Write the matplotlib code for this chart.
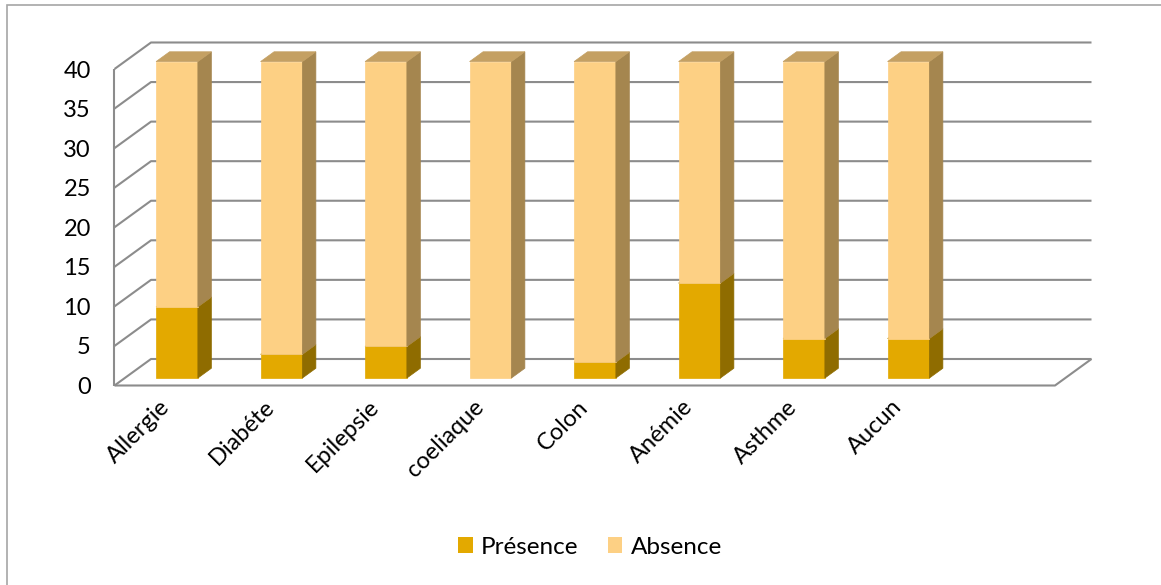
import matplotlib
matplotlib.use("Agg")
import matplotlib.pyplot as plt
from matplotlib.patches import Polygon, Rectangle, Patch

categories = ["Allergie", "Diabéte", "Epilepsie", "coeliaque", "Colon", "Anémie", "Asthme", "Aucun"]
presence = [9, 3, 4, 0, 2, 12, 5, 5]
absence = [31, 37, 36, 40, 38, 28, 35, 35]
n_slots = 9          # one empty category slot at the right end
y_ticks = [0, 5, 10, 15, 20, 25, 30, 35, 40]

W, H = 1161, 585
# depth of the box (front plane -> back wall), in data units
DX = 36.5 / 104.5
DY = 26.5 / 7.91
BAR_W = 0.40
D0, D1 = 0.28, 0.65   # bar depth range

GRID = "#8c8c8c"
FACE = {"pres": ("#e3a900", "#8f6c00", "#b08a10"),
        "abs": ("#fdd084", "#a5864f", "#c4a063")}

plt.rcParams["font.family"] = ["Lato", "DejaVu Sans"]

fig = plt.figure(figsize=(W / 100, H / 100), dpi=100)
ax = fig.add_axes([114.5 / W, 1 - 385.5 / H, (1055 - 114.5) / W, (385.5 - 69) / H])
ax.set_xlim(0, n_slots)
ax.set_ylim(0, 40)
for s in ax.spines.values():
    s.set_visible(False)


def proj(x, v, d):
    return (x + d * DX, v + d * DY)


def line(pts, **kw):
    xs, ys = zip(*pts)
    ax.plot(xs, ys, color=GRID, lw=1.5, clip_on=False, solid_capstyle="butt", **kw)


# back wall gridlines and left wall
for v in y_ticks:
    line([proj(0, v, 0), proj(0, v, 1), proj(n_slots, v, 1)], zorder=1)
line([proj(0, 0, 0), proj(0, 40, 0)], zorder=1)
# floor front and right edges
line([proj(0, 0, 0), proj(n_slots, 0, 0), proj(n_slots, 0, 1)], zorder=1)


def box(xc, lo, hi, colors, z):
    front, side, top = colors
    x0, x1 = xc - BAR_W / 2, xc + BAR_W / 2
    f = [proj(x0, lo, D0), proj(x1, lo, D0), proj(x1, hi, D0), proj(x0, hi, D0)]
    s = [proj(x1, lo, D0), proj(x1, lo, D1), proj(x1, hi, D1), proj(x1, hi, D0)]
    t = [proj(x0, hi, D0), proj(x1, hi, D0), proj(x1, hi, D1), proj(x0, hi, D1)]
    for pts, c in ((f, front), (s, side), (t, top)):
        ax.add_patch(Polygon(pts, closed=True, facecolor=c, edgecolor=c, lw=0.5,
                             clip_on=False, zorder=z))


for i, (p, a) in enumerate(zip(presence, absence)):
    xc = i + 0.5
    if p > 0:
        box(xc, 0, p, FACE["pres"], 3)
    if a > 0:
        box(xc, p, p + a, FACE["abs"], 4)

ax.set_yticks(y_ticks)
ax.set_yticklabels([str(v) for v in y_ticks], fontsize=17)
ax.set_xticks([i + 0.5 for i in range(len(categories))])
ax.set_xticklabels(categories, fontsize=17, rotation=45, ha="right", va="center",
                   rotation_mode="anchor")
ax.tick_params(axis="y", length=0, pad=17)
ax.tick_params(axis="x", length=0, pad=13)
ax.set_facecolor("none")

handles = [Patch(facecolor=FACE["pres"][0], label="Présence"),
           Patch(facecolor=FACE["abs"][0], label="Absence")]
fig.legend(handles=handles, loc="center", bbox_to_anchor=(590 / W, 1 - 547 / H),
           ncol=2, frameon=False, fontsize=17.5, handlelength=0.6, handleheight=0.6,
           handletextpad=0.35, columnspacing=1.2)

fig.patches.append(Rectangle((7 / W, -0.05), 1.0, 1.05 - 5 / H, transform=fig.transFigure,
                             fill=False, edgecolor="#a6a6a6", lw=1.2))

fig.savefig("out.png", dpi=100)
